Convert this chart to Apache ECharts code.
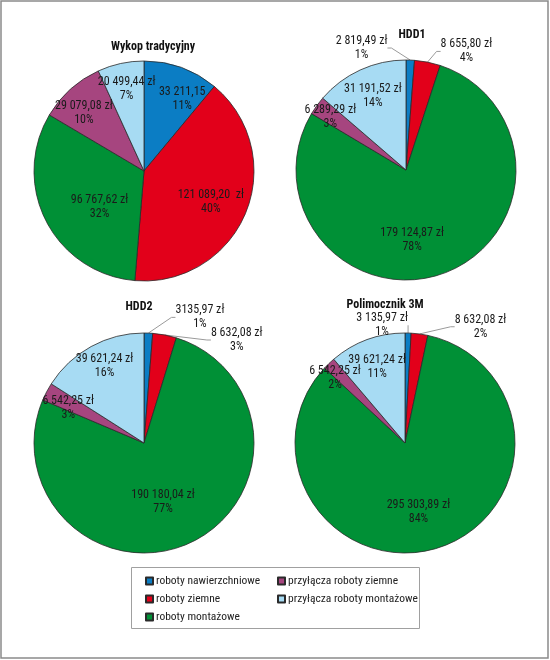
<!DOCTYPE html>
<html>
<head>
<meta charset="utf-8">
<script src="https://cdn.jsdelivr.net/npm/echarts@6/dist/echarts.min.js"></script>
<style>
  html, body { margin: 0; padding: 0; background: #fff; }
  #chart { width: 550px; height: 660px; }
</style>
</head>
<body>
<div id="chart"></div>
<script>
// kategorie kosztów
var categories = ['roboty nawierzchniowe', 'roboty ziemne', 'roboty montażowe', 'przyłącza roboty ziemne', 'przyłącza roboty montażowe'];
var chartTitles = ['Wykop tradycyjny', 'HDD1', 'HDD2', 'Polimocznik 3M'];

// wartości (zł)
var wykopValues = [33211.15, 121089.20, 96767.62, 29079.08, 20499.44];
var hdd1Values = [2819.49, 8655.80, 179124.87, 6289.29, 31191.52];
var hdd2Values = [3135.97, 8632.08, 190180.04, 6542.25, 39621.24];
var polimocznikValues = [3135.97, 8632.08, 295303.89, 6542.25, 39621.24];

// etykiety jak na rysunku
var wykopLabels = ['33 211,15', '121 089,20  zł', '96 767,62 zł', '29 079,08 zł', '20 499,44 zł'];
var hdd1Labels = ['2 819,49 zł', '8 655,80 zł', '179 124,87 zł', '6 289,29 zł', '31 191,52 zł'];
var hdd2Labels = ['3135,97 zł', '8 632,08 zł', '190 180,04 zł', '6 542,25 zł', '39 621,24 zł'];
var polimocznikLabels = ['3 135,97 zł', '8 632,08 zł', '295 303,89 zł', '6 542,25 zł', '39 621,24 zł'];

var wykopPct = ['11%', '40%', '32%', '10%', '7%'];
var hdd1Pct = ['1%', '4%', '78%', '3%', '14%'];
var hdd2Pct = ['1%', '3%', '77%', '3%', '16%'];
var polimocznikPct = ['1%', '2%', '84%', '2%', '11%'];

var colors = ['#0b7dc4', '#e2001a', '#009036', '#a6457f', '#a7dbf3'];

// układ: środki kół, promień, położenie etykiet [kąt, ułamek promienia]
var pieCenters = [[144, 171], [406, 170], [144, 443], [405, 443]];
var pieRadius = 110;
var titlePos = [[153, 41], [412, 29], [139, 301], [385, 299]];
var labelPlaces = [
    [[28, 0.74], [115, 0.67], [231, 0.52], [314, 0.76], [348, 0.76]],
    [[340, 1.18], [27, 1.21], [175, 0.64], [305, 0.84], [336, 0.74]],
    [[24, 1.25], [42, 1.26], [162, 0.56], [295, 0.76], [333, 0.79]],
    [[349, 1.09], [33, 1.26], [169, 0.64], [313, 0.87], [340, 0.74]]
];
var outsideLabels = [[], [0, 1], [0, 1], [0, 1]];

var allValues = [wykopValues, hdd1Values, hdd2Values, polimocznikValues];
var allLabels = [wykopLabels, hdd1Labels, hdd2Labels, polimocznikLabels];
var allPct = [wykopPct, hdd1Pct, hdd2Pct, polimocznikPct];

var fontFamily = '"Roboto Condensed", "DejaVu Sans Condensed", sans-serif';

function buildSeries(idx) {
    var values = allValues[idx];
    var data = values.map(function (v, i) {
        var outside = outsideLabels[idx].indexOf(i) >= 0;
        return {
            name: categories[i],
            value: v,
            label: { position: outside ? 'outside' : 'inside' },
            labelLine: { show: outside }
        };
    });
    return {
        type: 'pie',
        center: pieCenters[idx],
        radius: pieRadius,
        startAngle: 90,
        clockwise: true,
        avoidLabelOverlap: false,
        silent: true,
        itemStyle: { borderColor: '#2a2a2a', borderWidth: 0.8 },
        label: {
            color: '#1a1a1a',
            fontFamily: fontFamily,
            fontSize: 12,
            lineHeight: 14,
            align: 'center',
            formatter: function (p) {
                return allLabels[idx][p.dataIndex] + '\n' + allPct[idx][p.dataIndex];
            }
        },
        labelLine: {
            length: 8,
            length2: 4,
            lineStyle: { color: '#9a9a9a', width: 1 }
        },
        labelLayout: function (p) {
            var pl = labelPlaces[idx][p.dataIndex];
            var c = pieCenters[idx];
            var a = pl[0] * Math.PI / 180;
            return {
                x: c[0] + Math.sin(a) * pl[1] * pieRadius,
                y: c[1] - Math.cos(a) * pl[1] * pieRadius,
                align: 'center',
                verticalAlign: 'middle'
            };
        },
        data: data
    };
}

var legendText = { fontFamily: fontFamily, fontSize: 11.5, color: '#222', padding: [0, 0, 0, -2] };

var myChart = echarts.init(document.getElementById('chart'));
var option = {
    color: colors,
    animation: false,
    title: chartTitles.map(function (t, i) {
        return {
            text: t,
            left: titlePos[i][0],
            top: titlePos[i][1],
            textAlign: 'center',
            padding: 0,
            textStyle: { fontFamily: fontFamily, fontSize: 12, fontWeight: 'bold', color: '#111' }
        };
    }),
    legend: [
        {
            orient: 'vertical',
            left: 140,
            top: 570,
            itemWidth: 7,
            itemHeight: 7,
            itemGap: 6,
            icon: 'rect',
            selectedMode: false,
            data: categories.slice(0, 3),
            textStyle: legendText
        },
        {
            orient: 'vertical',
            left: 272,
            top: 570,
            itemWidth: 7,
            itemHeight: 7,
            itemGap: 6,
            icon: 'rect',
            selectedMode: false,
            data: categories.slice(3),
            textStyle: legendText
        }
    ],
    graphic: [
        {
            type: 'rect',
            shape: { x: 1, y: 1, width: 547, height: 657 },
            style: { fill: 'none', stroke: '#8a8a8a', lineWidth: 1.5 },
            silent: true
        },
        {
            type: 'rect',
            shape: { x: 131.5, y: 567.5, width: 288, height: 61 },
            style: { fill: 'none', stroke: '#a0a0a0', lineWidth: 1 },
            silent: true
        }
    ],
    series: [0, 1, 2, 3].map(buildSeries)
};
myChart.setOption(option);
window.addEventListener('resize', function () {
    myChart.resize();
});
</script>
</body>
</html>
